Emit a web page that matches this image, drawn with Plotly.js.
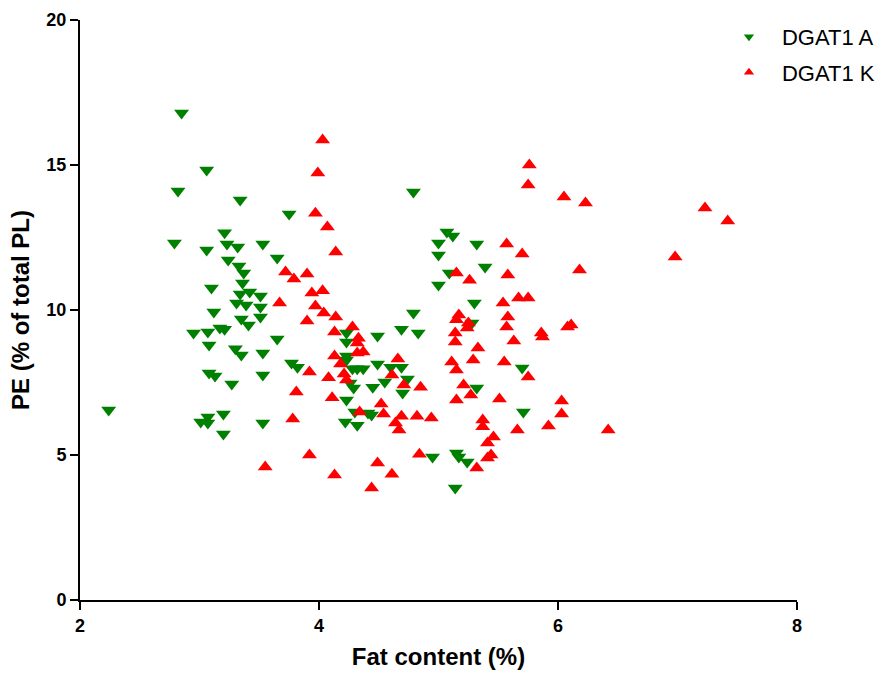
<!DOCTYPE html>
<html>
<head>
<meta charset="utf-8">
<script src="https://cdn.plot.ly/plotly-3.0.1.min.js"></script>
<style>html,body{margin:0;padding:0;background:#fff;}#chart{width:883px;height:674px;}</style>
</head>
<body>
<div id="chart"></div>
<script>
var seriesNames = ["DGAT1 A", "DGAT1 K"];
var xTicks = [2, 4, 6, 8];
var yTicks = [0, 5, 10, 15, 20];

var greenX = [2.24,2.85,2.82,2.79,3.06,3.34,3.75,3.06,3.21,3.23,
  3.32,3.53,3.65,3.24,3.33,3.37,3.36,3.10,3.42,3.34,
  3.51,3.31,3.39,3.51,3.12,3.35,3.51,3.41,3.17,3.21,
  2.95,3.07,3.08,3.65,3.30,3.35,3.53,3.08,3.13,3.53,
  3.27,3.01,3.07,3.07,3.20,3.53,3.20,3.77,3.82,4.23,
  4.23,4.23,4.23,4.28,4.32,4.26,4.29,4.23,4.22,4.32,
  4.30,4.41,4.44,4.49,4.37,4.45,4.49,4.60,4.69,4.55,
  4.74,4.70,4.69,4.83,4.79,4.79,4.95,5.15,5.17,5.24,
  5.14,5.07,5.12,5.00,5.00,5.09,5.00,5.32,5.39,5.30,
  5.28,5.70,5.32,5.71];
var greenY = [6.55,16.79,14.10,12.31,14.83,13.79,13.31,12.07,12.66,12.28,
  12.17,12.28,11.79,11.72,11.52,11.28,10.93,10.76,10.62,10.55,
  10.48,10.24,10.17,10.10,9.93,9.69,9.76,9.48,9.38,9.34,
  9.21,9.24,8.79,9.0,8.66,8.45,8.52,7.83,7.72,7.76,
  7.45,6.14,6.31,6.10,6.41,6.10,5.72,8.17,8.03,9.21,
  8.90,8.41,8.28,7.97,7.97,7.48,7.31,6.90,6.14,6.03,
  6.48,6.45,6.38,9.10,7.97,7.34,8.14,8.03,8.03,7.52,
  7.62,7.14,9.34,9.21,9.90,14.07,4.93,5.07,4.93,4.76,
  3.86,12.69,12.55,12.31,11.90,11.28,10.86,12.28,11.48,10.24,
  9.55,8.0,7.31,6.48];

var redX = [4.03,3.99,3.97,4.07,4.14,3.72,3.79,3.90,3.94,4.03,
  5.15,3.67,3.97,4.04,3.90,4.14,4.13,4.28,4.33,4.32,
  4.37,4.32,4.13,4.18,4.21,4.23,4.08,3.92,3.81,4.11,
  3.78,3.55,3.92,4.13,4.44,4.49,4.61,4.84,4.52,4.34,
  4.54,4.64,4.69,4.67,4.82,4.94,4.61,4.66,4.71,4.85,
  5.15,5.14,5.11,5.15,5.15,5.76,5.75,6.05,5.57,5.70,
  5.58,5.26,5.54,5.67,5.75,5.58,5.57,5.63,5.86,5.17,
  5.25,5.14,5.33,6.08,5.87,5.29,5.55,5.75,5.21,5.27,
  5.51,5.37,5.37,5.46,5.41,5.66,5.92,6.03,6.03,5.44,
  5.41,5.32,6.23,7.23,7.42,6.98,6.18,6.11,6.42,5.24];
var redY = [15.86,14.72,13.34,12.86,12.0,11.31,11.07,11.24,10.59,10.66,
  11.28,10.24,10.14,9.90,9.62,9.76,9.24,9.41,9.03,8.86,
  8.55,8.52,8.41,8.14,7.79,7.59,7.66,7.86,7.17,6.97,
  6.24,4.59,5.0,4.31,3.86,4.72,4.34,5.03,6.76,6.48,
  6.41,6.10,6.34,5.86,6.34,6.28,7.76,8.31,7.41,7.34,
  9.66,9.21,8.21,7.93,6.90,15.0,14.31,13.9,12.28,11.93,
  11.21,11.03,10.24,10.41,10.41,9.76,9.41,8.93,9.21,9.83,
  9.55,8.90,8.69,9.41,9.07,8.28,8.21,7.69,7.41,7.07,
  6.93,6.21,5.97,5.62,5.41,5.86,6.0,6.86,6.41,5.0,
  4.90,4.55,13.69,13.52,13.07,11.83,11.38,9.48,5.86,9.38];

var fam = "'Liberation Sans', Arial, sans-serif";
var colA = '#008000', colK = '#ff0000';

var traces = [
  {x: greenX, y: greenY, name: seriesNames[0], type: 'scatter', mode: 'markers', showlegend: false,
   marker: {symbol: 'triangle-down', size: 13, color: colA, line: {width: 0}}},
  {x: redX, y: redY, name: seriesNames[1], type: 'scatter', mode: 'markers', showlegend: false,
   marker: {symbol: 'triangle-up', size: 13, color: colK, line: {width: 0}}},
  // legend entries (smaller symbols, as in the reference legend)
  {x: [null], y: [null], name: seriesNames[0], type: 'scatter', mode: 'markers', legendgroup: 'a',
   marker: {symbol: 'triangle-down', size: 9, color: colA, line: {width: 0}}},
  {x: [null], y: [null], name: seriesNames[1], type: 'scatter', mode: 'markers', legendgroup: 'k',
   marker: {symbol: 'triangle-up', size: 9, color: colK, line: {width: 0}}}
];

var axisCommon = {
  showline: true, linecolor: '#000', linewidth: 2, mirror: false,
  ticks: 'outside', ticklen: 8, tickwidth: 2, tickcolor: '#000',
  showgrid: false, zeroline: false,
  tickfont: {family: fam, size: 18, color: '#000', weight: 'bold'}
};

var layout = {
  width: 883, height: 674,
  margin: {l: 80, r: 86, t: 20, b: 74, pad: 0, autoexpand: false},
  paper_bgcolor: '#fff', plot_bgcolor: '#fff',
  showlegend: true,
  legend: {x: 0.887, xanchor: 'left', y: 1.007, yanchor: 'top', bgcolor: 'rgba(0,0,0,0)',
           itemwidth: 56,
           font: {family: fam, size: 22, color: '#000'}, tracegroupgap: 4, traceorder: 'grouped'},
  xaxis: Object.assign({}, axisCommon, {
    range: [2, 8], tickvals: xTicks, ticktext: xTicks.map(String),
    title: {text: 'Fat content (%)', font: {family: fam, size: 24, color: '#000', weight: 'bold'}, standoff: 14}
  }),
  yaxis: Object.assign({}, axisCommon, {
    range: [0, 20], tickvals: yTicks, ticktext: yTicks.map(String),
    title: {text: 'PE (% of total PL)', font: {family: fam, size: 24, color: '#000', weight: 'bold'}, standoff: 10}
  })
};

Plotly.newPlot('chart', traces, layout, {displayModeBar: false, staticPlot: true});
</script>
</body>
</html>
